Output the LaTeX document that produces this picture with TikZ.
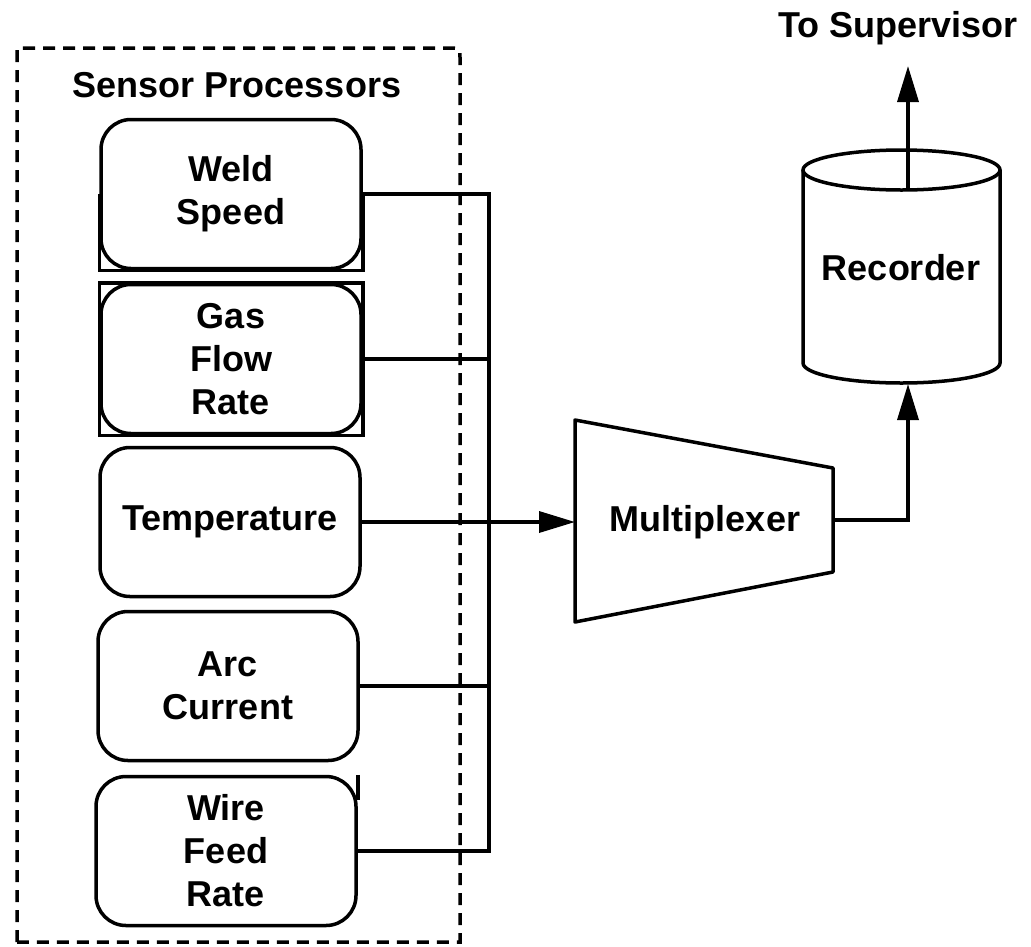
\documentclass[tikz,border=0pt]{standalone}
\usepackage{fontspec}
\setmainfont{Liberation Sans}
\usetikzlibrary{positioning, arrows.meta}

\begin{document}
\begin{tikzpicture}[x=1pt, y=-1pt,
    sensor/.style={rectangle, rounded corners=30pt, minimum width=260pt, minimum height=149pt, text centered, align=center, draw=black, line width=3.5pt, font=\bfseries\fontsize{36}{43}\selectfont},
    title/.style={font=\bfseries\fontsize{36}{43}\selectfont},
    wire/.style={line width=3.5pt},
    frame/.style={line width=3.5pt, dash pattern=on 12pt off 8pt},
    arrow/.style={line width=3.5pt, -{Triangle[length=36pt, width=21pt]}},
]

\useasboundingbox (0,0) rectangle (1031,946);

% Sensor processors
\draw[frame] (17,942) -- (17,48) -- (450,48) .. controls (460,48) .. (460,58) -- (460,942) -- cycle;
\node[title] (procs) at (237,85) {Sensor Processors};

\node[sensor] (weld) at (231,194) {Weld\\Speed};
\node[sensor, below=12.5pt of weld] (gas) {Gas\\Flow\\Rate};
\node[sensor, below=10.5pt of gas, xshift=-1pt] (temp) {Temperature};
\node[sensor, below=11.5pt of temp, xshift=-2pt] (arc) {Arc\\Current};
\node[sensor, below=12.5pt of arc, xshift=-2pt] (feed) {Wire\\Feed\\Rate};

% square corners left over on some boxes
\draw[wire] (weld.west) |- (weld.south east) -- (weld.east);
\draw[wire] (gas.north west) rectangle (gas.south east);
\draw[wire] (feed.north east) -- ++(0,25);

% Multiplexer and recorder
\draw[wire, line join=round] (575,420) -- (833,468) -- (833,572) -- (575,622) -- cycle;
\node[title] (mux) at (705,522) {Multiplexer};
\coordinate (muxin) at (temp.east -| 575,0);
\coordinate (muxout) at (833,520);

\draw[wire] (803,170) -- (803,363) arc[start angle=180, end angle=360, x radius=98.5pt, y radius=20pt] -- (1000,170);
\draw[wire] (901.5,170) ellipse [x radius=98.5pt, y radius=20pt];
\node[title] (rec) at (901,268) {Recorder};
\coordinate (recbot) at (908,384);
\coordinate (rectop) at (908,188);
\node[title] (sup) at (898,28) {To Supervisor};

% Connections
\coordinate (bus) at (489,0);
\draw[wire] (weld.east) -| (bus |- feed.east) -- (feed.east);
\draw[wire] (gas.east) -- (gas.east -| bus);
\draw[wire] (arc.east) -- (arc.east -| bus);
\draw[arrow] (temp.east) -- (muxin);
\draw[arrow] (muxout) -| (recbot);
\draw[arrow] (rectop) -- (rectop |- 0,66);

\end{tikzpicture}
\end{document}
